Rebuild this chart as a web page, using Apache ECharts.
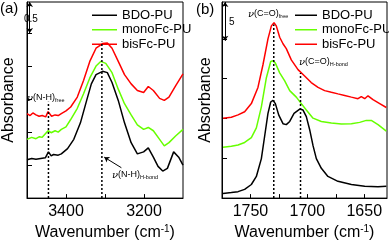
<!DOCTYPE html>
<html><head><meta charset="utf-8">
<script src="https://cdn.jsdelivr.net/npm/echarts@6/dist/echarts.min.js"></script>
<style>html,body{margin:0;padding:0;background:#fff}#c{width:389px;height:246px}</style>
</head><body><div id="c"></div>
<script>
// ---------- Panel (a): N-H region ----------
const aBdoX = [3500,3488,3477,3465,3453,3445,3438,3432,3420,3412,3396,3380,3363,3347,3335,3323,3306,3294,3282,3266,3250,3233,3217,3201,3189,3176,3164,3152,3140,3124,3111,3100];
const aBdoY = [0.58,0.60,0.59,0.60,0.61,0.70,0.64,0.66,0.65,0.67,0.75,0.89,1.14,1.48,1.73,1.87,1.92,1.90,1.75,1.48,1.14,0.84,0.67,0.70,0.76,0.62,0.48,0.41,0.45,0.70,0.62,0.50];
const aMonoX = [3500,3488,3477,3468,3461,3446,3438,3428,3420,3412,3400,3388,3371,3355,3339,3323,3311,3298,3282,3266,3250,3233,3217,3201,3189,3176,3160,3148,3136,3119,3100];
const aMonoY = [0.89,0.92,0.90,0.93,0.92,1.02,0.99,1.02,1.00,1.04,1.08,1.19,1.36,1.58,1.82,2.00,2.07,2.04,1.90,1.65,1.43,1.26,1.11,1.04,1.07,1.02,0.89,0.79,0.84,0.94,1.04];
const aBisX = [3500,3492,3485,3477,3469,3461,3452,3446,3437,3428,3420,3412,3400,3388,3371,3355,3339,3323,3306,3294,3282,3266,3250,3233,3217,3201,3189,3176,3160,3148,3136,3119,3100];
const aBisY = [1.28,1.25,1.29,1.26,1.24,1.25,1.23,1.31,1.24,1.26,1.25,1.28,1.32,1.38,1.53,1.78,2.07,2.27,2.34,2.35,2.27,2.07,1.87,1.73,1.63,1.60,1.69,1.63,1.51,1.48,1.53,1.70,1.88];
const aXTicks = [3200,3300,3400];
const aXLabels = [3200,3400];
const aYTicks = [0.5,1.0,1.5,2.0,2.5];
const aPeaks = [3445,3308];        // nu(N-H) free, H-bond
const aPeakTops = [1.46,2.37];

// ---------- Panel (b): C=O region ----------
const bBdoX = [1774.1,1766.8,1760.9,1755.1,1749.2,1744.8,1740.4,1737.5,1734.6,1732.2,1730.2,1728.1,1725.2,1721.4,1718.5,1715.5,1711.7,1706.7,1703.8,1700.9,1698.0,1695.0,1692.1,1687.7,1681.9,1673.1,1661.3,1649.6,1637.9,1630.6];
const bBdoY = [0.57,0.69,0.81,1.10,1.71,2.72,4.96,7.80,10.65,12.07,12.28,11.87,10.45,9.35,9.23,9.63,10.65,11.18,11.06,10.24,8.62,6.59,4.96,3.74,2.72,2.11,1.71,1.50,1.42,1.50];
const bMonoX = [1774.1,1766.8,1760.9,1755.1,1749.2,1744.8,1740.4,1736.0,1732.2,1730.2,1728.1,1724.3,1719.9,1715.5,1709.7,1705.3,1700.9,1695.0,1687.7,1678.9,1670.1,1661.3,1654.0,1648.2,1643.8,1637.9,1630.6];
const bMonoY = [6.38,6.50,6.67,6.99,7.60,8.82,11.46,15.12,17.15,17.24,16.95,15.73,14.72,13.50,12.68,11.87,11.06,10.04,9.63,9.43,9.31,9.35,9.51,9.76,9.76,9.23,8.41];
const bBisX = [1774.1,1766.8,1760.9,1755.1,1749.2,1743.4,1739.0,1734.6,1731.6,1729.3,1727.3,1724.3,1721.4,1718.5,1714.1,1708.2,1702.4,1696.6,1690.6,1684.8,1678.9,1673.1,1667.2,1661.3,1655.5,1652.6,1649.6,1646.7,1642.3,1636.4,1630.6];
const bBisY = [10.04,10.16,10.45,10.85,11.87,13.90,16.75,20.00,21.63,22.03,21.63,20.20,19.39,18.78,17.36,16.14,15.33,14.51,13.90,13.50,13.29,13.09,12.89,12.68,12.48,12.76,12.48,12.85,12.36,11.87,11.38];
const bXTicks = [1650,1675,1700,1725,1750];
const bXLabels = [1650,1700,1750];
const bYTicks = [5,10,15,20];
const bPeaks = [1729.5,1706];      // nu(C=O) free, H-bond
const bPeakTops = [21.8,15.7];

const names = ['BDO-PU','monoFc-PU','bisFc-PU'];
const colors = ['#000000','#66ff00','#ff0000'];

const zip = (xs, ys) => xs.map((x, i) => [x, ys[i]]);

const chart = echarts.init(document.getElementById('c'), null, {renderer:'canvas'});
const FONT = 'Liberation Sans, Arial, sans-serif';

function xAxisCfg(gi, min, max, ticks, labels) {
  return {
    type:'value', gridIndex:gi, min:min, max:max, inverse:true,
    name:'Wavenumber (cm{sup|-1})', nameLocation:'middle', nameGap:23,
    nameTextStyle:{fontSize:16, fontFamily:FONT, color:'#000',
      rich:{sup:{fontSize:10, fontFamily:FONT, color:'#000', verticalAlign:'top', padding:[0,0,8,0]}}},
    axisLine:{show:true, lineStyle:{color:'#000', width:1}},
    axisTick:{show:true, inside:true, length:4, customValues:ticks, lineStyle:{color:'#000'}},
    axisLabel:{show:true, customValues:labels, formatter:(v)=>String(v), fontSize:16, fontFamily:FONT, color:'#000', margin:5},
    splitLine:{show:false}
  };
}
function yAxisCfg(gi, max, ticks, gap) {
  return {
    type:'value', gridIndex:gi, min:0, max:max,
    name:'Absorbance', nameLocation:'middle', nameGap:gap,
    nameTextStyle:{fontSize:16, fontFamily:FONT, color:'#000'},
    axisLine:{show:true, lineStyle:{color:'#000', width:1}},
    axisTick:{show:true, inside:true, length:5, customValues:ticks, lineStyle:{color:'#000'}},
    axisLabel:{show:false},
    splitLine:{show:false}
  };
}
function curve(name, idx, data, gi) {
  return {type:'line', name:name, xAxisIndex:gi, yAxisIndex:gi, data:data,
    symbol:'none', lineStyle:{color:colors[idx], width:1.5}, itemStyle:{color:colors[idx]},
    silent:true, animation:false, z:3};
}
function dotted(gi, x, top) {
  return {type:'line', name:'_peak', xAxisIndex:gi, yAxisIndex:gi,
    data:[[x,0],[x,top]], symbol:'none', silent:true, animation:false,
    lineStyle:{color:'#000', width:1.5, type:[2,2]}, z:4};
}
function marks(gi, lines) {
  return {type:'line', name:'_mark', xAxisIndex:gi, yAxisIndex:gi, data:[], silent:true, animation:false,
    markLine:{silent:true, animation:false, symbol:['arrow','arrow'], symbolSize:5,
      label:{show:false}, lineStyle:{color:'#000', width:1, type:'solid'},
      data:lines}};
}

const series = [
  curve(names[0],0,zip(aBdoX,aBdoY),0),
  curve(names[1],1,zip(aMonoX,aMonoY),0),
  curve(names[2],2,zip(aBisX,aBisY),0),
  dotted(0,aPeaks[0],aPeakTops[0]),
  dotted(0,aPeaks[1],aPeakTops[1]),
  marks(0,[
    [{coord:[3493,2.5]},{coord:[3493,2.97]}],
    [{coord:[3258,0.46],symbol:'none'},{coord:[3302,0.62],symbol:'arrow'}]
  ]),
  curve(names[0],0,zip(bBdoX,bBdoY),1),
  curve(names[1],1,zip(bMonoX,bMonoY),1),
  curve(names[2],2,zip(bBisX,bBisY),1),
  dotted(1,bPeaks[0],bPeakTops[0]),
  dotted(1,bPeaks[1],bPeakTops[1]),
  marks(1,[
    [{coord:[1772.3,19.76]},{coord:[1772.3,24.63]}]
  ])
];

const sub = {fontSize:5.5, fontFamily:FONT, color:'#000', verticalAlign:'bottom', padding:[4,0,0,0]};
const nu = {fontSize:10, fontFamily:'DejaVu Serif, serif', fontStyle:'italic', color:'#000'};
const main = {fontSize:9, fontFamily:FONT, color:'#000'};
function label(left, top, text) {
  return {type:'text', left:left, top:top, silent:true,
    style:{text:text, fill:'#000', font:'9px '+FONT, rich:{n:nu, m:main, s:sub}}};
}
function legendCfg(left, w) {
  return {data:names, left:left, top:3, orient:'vertical', icon:'rect', itemWidth:w, itemHeight:1.5, itemGap:0,
    textStyle:{fontSize:13, fontFamily:FONT, color:'#000', padding:[0,0,0,0], lineHeight:14.5}, selectedMode:false};
}

chart.setOption({
  animation:false,
  backgroundColor:'#fff',
  grid:[
    {left:19, top:2, width:164, height:202, show:true, borderColor:'#000', borderWidth:1, backgroundColor:'transparent'},
    {left:222, top:2, width:165, height:202, show:true, borderColor:'#000', borderWidth:1, backgroundColor:'transparent'}
  ],
  xAxis:[xAxisCfg(0,3100,3500,aXTicks,aXLabels), xAxisCfg(1,1630,1775,bXTicks,bXLabels)],
  yAxis:[yAxisCfg(0,2.97,aYTicks,10), yAxisCfg(1,24.63,bYTicks,8)],
  legend:[legendCfg(87,25), legendCfg(290,22)],
  graphic:[
    {type:'text', left:0, top:1, style:{text:'(a)', fill:'#000', font:'15px '+FONT}},
    {type:'text', left:196, top:2, style:{text:'(b)', fill:'#000', font:'15px '+FONT}},
    {type:'text', left:24, top:14, style:{text:'0.5', fill:'#000', font:'10px '+FONT}},
    {type:'text', left:229, top:17, style:{text:'5', fill:'#000', font:'10px '+FONT}},
    label(27, 93, '{n|ν}{m|(N-H)}{s|free}'),
    label(112, 170, '{n|ν}{m|(N-H)}{s|H-bond}'),
    label(248, 9, '{n|ν}{m|(C=O)}{s|free}'),
    label(299, 57, '{n|ν}{m|(C=O)}{s|H-bond}')
  ],
  series:series
});
</script></body></html>
